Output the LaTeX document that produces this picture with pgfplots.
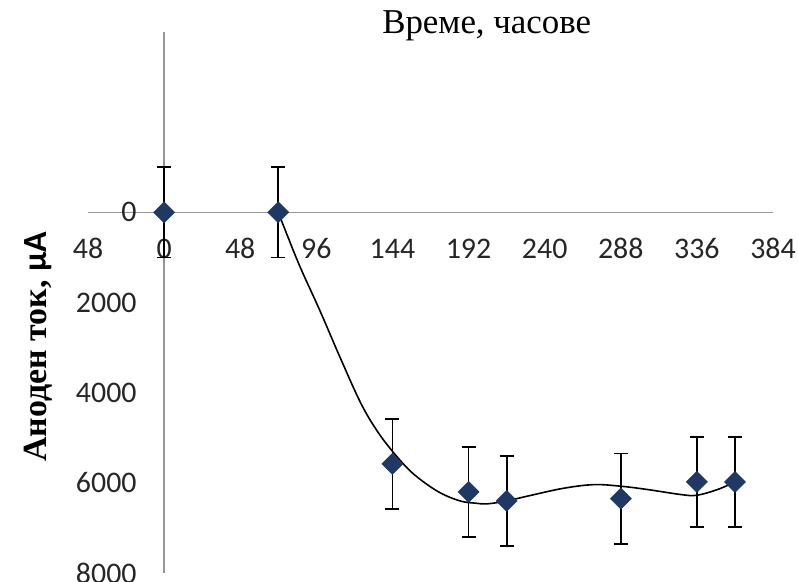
\documentclass[border=0pt]{standalone}
\usepackage{fontspec}
\setmainfont{Liberation Serif}
\newfontfamily\calibri{Carlito}
\usepackage{pgfplots}
\pgfplotsset{compat=1.18}
\definecolor{mk}{RGB}{31,56,100}
\definecolor{axg}{RGB}{150,150,150}
\pgfplotstableread{
x y err
0 0 1000
72 0 1000
144 5580 1000
192 6200 1000
216 6400 1000
288 6350 1000
336 5980 1000
360 5980 1000
}\meas
\begin{document}
\begin{tikzpicture}
\useasboundingbox (-88bp,-9bp) rectangle (710bp,573bp);
\begin{axis}[name=ax, at={(0,0)}, anchor=south west,
 scale only axis, width=685bp, height=541bp,
 axis lines=middle, axis line style={-, axg, line width=1.6bp},
 xmin=-48, xmax=384, ymin=-4000, ymax=8000, y dir=reverse,
 xtick={-48,0,48,96,144,192,240,288,336,384},
 xticklabels={48,0,48,96,144,192,240,288,336,384},
 ytick={0,2000,4000,6000,8000},
 major tick length=0pt,
 hide obscured x ticks=false, hide obscured y ticks=false,
 /pgf/number format/assume math mode=true,
 scaled y ticks=false,
 yticklabel style={/pgf/number format/1000 sep={}},
 tick label style={font=\calibri\fontsize{30}{32}\selectfont, text=black!85},
 x tick label style={anchor=base, yshift=-46bp, text height=19bp, text depth=0bp},
 y tick label style={xshift=-24bp},
 xlabel={Време, часове},
 xlabel style={at={(axis description cs:0.582,0.997)}, anchor=base, font=\fontsize{35}{40}\selectfont},
 ylabel={\textbf{Аноден ток, }{\calibri\bfseries μA}},
 ylabel style={at={(axis description cs:-0.06,0.418)}, anchor=base, rotate=90, font=\fontsize{34}{38}\selectfont},
 clip=false]
\addplot[only marks, mark=square*, mark size=7.5bp,
  mark options={rotate=45, fill=mk, draw=mk},
  error bars/.cd, y dir=both, y explicit,
  error bar style={black, line width=1.8bp},
  error mark options={rotate=90, black, line width=1.8bp, mark size=7bp}]
  table[x=x, y=y, y error=err] {\meas};
\addplot[black, line width=1.6bp, smooth, tension=0.6, no marks] coordinates {
(72,0) (78,540) (86,1230) (98.5,2200) (111,3220) (124,4230) (134,4830)
(144,5300) (155,5730) (166,6040) (176,6255) (187,6405) (196,6450)
(204,6465) (216,6400) (231,6280) (252,6120) (271,6040) (288,6075)
(305,6149) (326,6260) (336,6275) (349,6149) (360,5980)};
\end{axis}
\end{tikzpicture}
\end{document}
